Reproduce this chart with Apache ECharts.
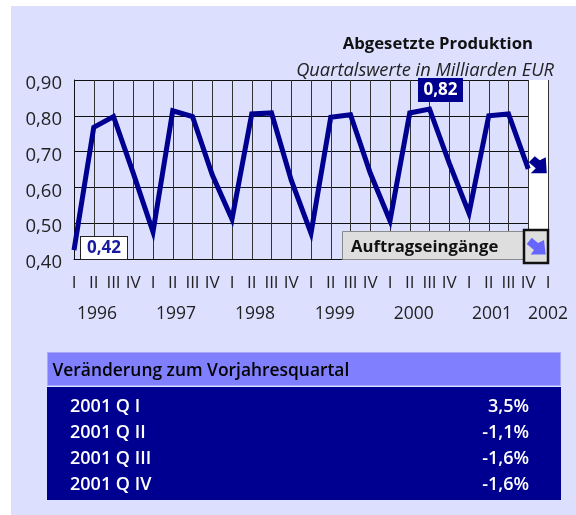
<!DOCTYPE html>
<html>
<head>
<meta charset="utf-8">
<script src="https://cdn.jsdelivr.net/npm/echarts@6/dist/echarts.min.js"></script>
<style>html,body{margin:0;padding:0;background:#fff}#c{width:576px;height:515px}</style>
</head>
<body>
<div id="c"></div>
<script>
var quarterLabels = ['I','II','III','IV','I','II','III','IV','I','II','III','IV','I','II','III','IV','I','II','III','IV','I','II','III','IV','I'];
var production = [0.425,0.768,0.798,0.64,0.476,0.814,0.798,0.635,0.511,0.805,0.808,0.62,0.472,0.796,0.803,0.64,0.507,0.808,0.819,0.668,0.528,0.80,0.805,0.652];
var yearLabels = ['1996','1997','1998','1999','2000','2001','2002'];
var yearPositions = [1.16,5.16,9.16,13.2,17.2,21.16,24];
var tableTitle = 'Veränderung zum Vorjahresquartal';
var rowLabels = ['2001 Q I','2001 Q II','2001 Q III','2001 Q IV'];
var rowValues = ['3,5%','-1,1%','-1,6%','-1,6%'];
var FONT = '"Open Sans"';
var NAVY = '#000090';
var ARROW = 'path://M11 4 L6 0 L0 6 L7 12 L2 17 L18 17 L17 1 Z';

function comma(v, d){ return v.toFixed(d).replace('.', ','); }

var seriesData = production.map(function(v, i){
  if (i === 0) return {value: v, label: {show: true, formatter: comma(0.42,2), position: 'right', offset: [25, -2],
    width: 46, height: 22, lineHeight: 24, align: 'center', verticalAlign: 'middle', backgroundColor: '#fff', borderColor: '#222', borderWidth: 1,
    color: '#1a1aa0', fontFamily: FONT, fontWeight: 'bold', fontSize: 17}};
  if (i === 18) return {value: v, label: {show: true, formatter: comma(0.82,2), position: 'top', offset: [11, -14],
    width: 45, height: 24, lineHeight: 26, align: 'center', verticalAlign: 'middle', backgroundColor: NAVY,
    color: '#fff', fontFamily: FONT, fontWeight: 'bold', fontSize: 17}};
  return v;
});

var graphics = [];
// legend key
graphics.push({type:'rect', z:20, shape:{x:342.5,y:231.5,width:181,height:28}, style:{fill:'#dedede', stroke:'#8a8a8a', lineWidth:1}});
graphics.push({type:'text', z:21, style:{x:351,y:247,text:'Auftragseingänge', font:'bold 16.7px '+FONT, fill:'#111', textVerticalAlign:'middle'}});
graphics.push({type:'rect', z:22, shape:{x:524,y:230,width:24,height:33}, style:{fill:'#dedede', stroke:'#111', lineWidth:2.5}});
graphics.push({type:'polygon', z:23, shape:{points:[[538,243],[531.7,237.7],[526.7,244],[534,250],[530.7,254.5],[545.7,254.5],[544,240]]}, style:{fill:'#6666ff'}});
// table
graphics.push({type:'rect', z:20, shape:{x:47.5,y:352.5,width:513,height:33}, style:{fill:'#8080ff', stroke:'#a9a9ff', lineWidth:1}});
graphics.push({type:'rect', z:20, shape:{x:47,y:387,width:514,height:113}, style:{fill:NAVY}});
graphics.push({type:'text', z:21, style:{x:52.5,y:371,text:tableTitle, font:'600 17.4px '+FONT, fill:'#000', textVerticalAlign:'middle'}});
rowLabels.forEach(function(t,i){
  graphics.push({type:'text', z:21, style:{x:70,y:407+26*i,text:t, font:'600 18px '+FONT, fill:'#fff', textVerticalAlign:'middle'}});
  graphics.push({type:'text', z:21, style:{x:529,y:407+26*i,text:rowValues[i], font:'600 18px '+FONT, fill:'#fff', textAlign:'right', textVerticalAlign:'middle'}});
});

var bandColors = quarterLabels.slice(0,23).map(function(){return 'rgba(0,0,0,0)';}).concat(['#ffffff']);

var chart = echarts.init(document.getElementById('c'), null, {renderer:'canvas'});
chart.setOption({
  animation: false,
  backgroundColor: '#ffffff',
  title: [
    {text:'Abgesetzte Produktion', right: 38, top: 29, textStyle:{fontFamily:FONT, fontWeight:'bold', fontSize:16.7, color:'#111', lineHeight:20}},
    {text:'Quartalswerte in Milliarden EUR', right: 17, top: 56, textStyle:{fontFamily:FONT, fontWeight:'normal', fontStyle:'italic', fontSize:18.3, color:'#222', lineHeight:20}}
  ],
  grid: {left:74, right:28, top:80, bottom:256, containLabel:false},
  xAxis: [
    {type:'category', data:quarterLabels, boundaryGap:false,
     axisLine:{show:true,lineStyle:{color:'#111',width:1}}, axisTick:{show:false},
     axisLabel:{interval:0, margin:16, color:'#222', fontFamily:FONT, fontSize:17},
     splitLine:{show:true, interval:0, lineStyle:{color:'#333',width:1}},
     splitArea:{show:true, interval:0, areaStyle:{color:bandColors}}},
    {type:'value', position:'bottom', min:0, max:24, offset:46,
     axisLine:{show:false}, axisTick:{show:false}, splitLine:{show:false},
     axisLabel:{customValues:yearPositions, margin:0, color:'#222', fontFamily:FONT, fontSize:17.5,
       showMinLabel:true, showMaxLabel:true, hideOverlap:false,
       formatter:function(v){ return yearLabels[yearPositions.indexOf(v)] || ''; }}}
  ],
  yAxis: {type:'value', min:0.4, max:0.9, interval:0.1,
    axisLine:{show:true,lineStyle:{color:'#111'}}, axisTick:{show:false},
    axisLabel:{margin:12, verticalAlign:'top', lineHeight:8, color:'#222', fontFamily:FONT, fontSize:18.5, formatter:function(v){return comma(v,2);}},
    splitLine:{show:true,lineStyle:{color:'#111',width:1}}},
  series: [{
    type:'line', data:seriesData, xAxisIndex:0, symbol:'circle', symbolSize:0, showSymbol:true, showAllSymbol:true, clip:false,
    lineStyle:{color:NAVY, width:5, join:'miter'},
    markPoint:{silent:true, symbol:ARROW, symbolSize:[18,17], symbolOffset:[9.5,-4], symbolKeepAspect:false,
      itemStyle:{color:NAVY}, label:{show:false},
      data:[{coord:[23, production[23]]}]}
  }],
  graphic: {elements: [{type:'rect', z:-10, silent:true, shape:{x:11,y:6,width:565,height:509}, style:{fill:'#dddfff'}}].concat(graphics)}
});
</script>
</body>
</html>
